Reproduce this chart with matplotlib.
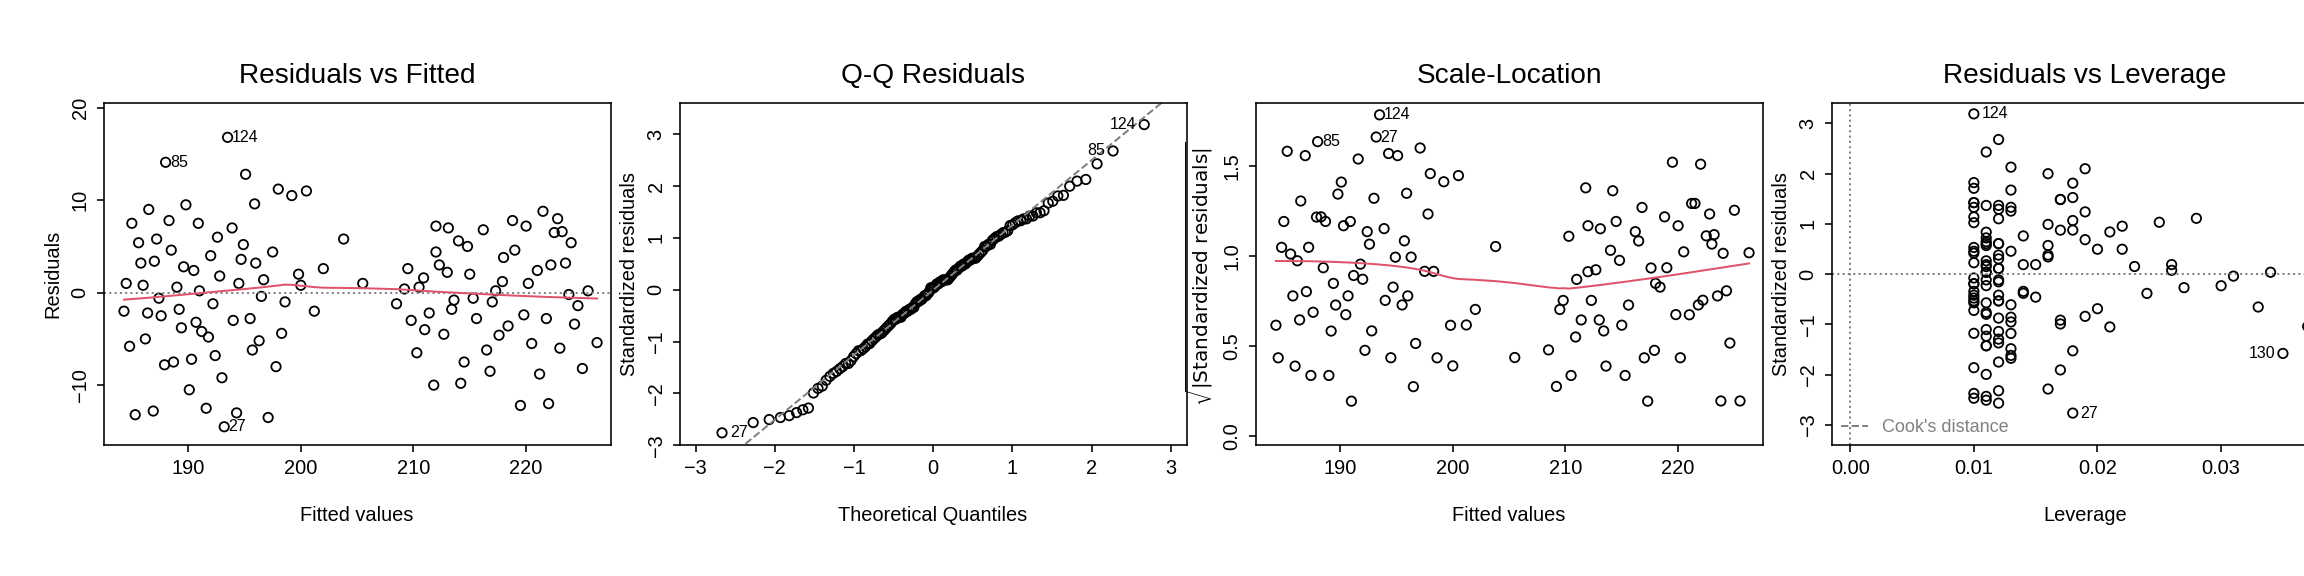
import math
import numpy as np
import matplotlib
matplotlib.use("Agg")
import matplotlib.pyplot as plt

# fitted values and residuals of the model
fitted = np.array([
    193.5, 188.0, 193.2, 184.5, 185.0, 185.3, 185.8, 186.2, 186.5, 186.9,
    187.2, 187.6, 188.3, 188.7, 189.0, 189.4, 189.8, 190.1, 190.5, 190.9,
    191.2, 191.6, 192.0, 192.4, 192.8, 193.9, 194.3, 194.7, 195.1, 195.5,
    195.9, 196.3, 196.7, 197.1, 197.5, 198.0, 198.6, 199.2, 199.8, 200.5,
    201.2, 202.0, 203.8, 184.8, 185.6, 186.4, 187.0, 187.9, 188.5, 189.2,
    190.3, 191.0, 191.8, 192.6, 193.0, 194.0, 194.9, 195.7, 196.5, 197.8,
    184.3, 186.0, 187.4, 189.6, 190.7, 192.2, 194.5, 196.0, 198.3, 200.0,
    208.5, 209.2, 209.8, 210.3, 210.9, 211.4, 211.8, 212.3, 212.7, 213.1,
    213.6, 214.0, 214.5, 215.0, 215.6, 216.2, 216.8, 217.3, 217.9, 218.4,
    219.0, 219.5, 220.0, 220.5, 221.0, 221.5, 222.0, 222.5, 223.0, 223.5,
    224.0, 224.6, 225.5, 226.3, 209.5, 211.0, 212.0, 213.4, 214.8, 216.5,
    218.0, 219.8, 221.2, 222.8, 224.3, 210.5, 213.0, 215.3, 217.6, 220.2,
    222.2, 223.8, 205.5, 212.0, 217.0, 221.8, 223.2, 218.8, 214.2, 225.0,
])
residuals = np.array([
    16.8, 14.1, -14.5, 1.0, 7.5, -13.2, 3.2, -5.0, 9.0, -12.8,
    5.8, -2.5, 7.8, -7.5, 0.6, -3.8, 9.5, -10.5, 2.4, 7.5,
    -4.2, -12.5, 4.0, -6.8, 1.8, 7.0, -13.0, 3.6, 12.8, -2.8,
    9.6, -5.2, 1.4, -13.5, 4.4, 11.2, -1.0, 10.5, 2.0, 11.0,
    -2.0, 2.6, 5.8, -5.8, 5.4, -2.2, 3.4, -7.8, 4.6, -1.8,
    -7.2, 0.2, -4.8, 6.0, -9.2, -3.0, 5.2, -6.2, -0.4, -8.0,
    -2.0, 0.8, -0.6, 2.8, -3.2, -1.2, 1.0, 3.2, -4.4, 0.8,
    -1.2, 0.4, -3.0, -6.5, 1.6, -2.2, -10.0, 3.0, -4.5, 7.0,
    -0.8, 5.6, -7.5, 2.0, -2.8, 6.8, -8.5, 0.2, 1.2, -3.6,
    4.6, -12.2, 7.2, -5.5, 2.4, 8.8, -12.0, 6.5, -6.0, 3.2,
    5.4, -1.4, 0.2, -5.4, 2.6, -4.0, 7.2, -1.8, 5.0, -6.2,
    3.8, -2.4, -8.8, 8.0, -3.4, 0.6, 2.2, -0.6, -4.6, 1.0,
    3.0, -0.2, 1.0, 4.4, -1.0, -2.8, 6.6, 7.8, -9.8, -8.2,
])
leverage = np.array([
    0.010, 0.012, 0.018, 0.011, 0.010, 0.011, 0.012, 0.013, 0.010, 0.011,
    0.012, 0.010, 0.017, 0.011, 0.012, 0.010, 0.018, 0.011, 0.013, 0.010,
    0.011, 0.010, 0.014, 0.012, 0.016, 0.013, 0.010, 0.019, 0.011, 0.012,
    0.010, 0.017, 0.011, 0.012, 0.021, 0.013, 0.010, 0.016, 0.012, 0.019,
    0.024, 0.022, 0.028, 0.011, 0.010, 0.012, 0.011, 0.013, 0.018, 0.010,
    0.012, 0.011, 0.017, 0.010, 0.012, 0.011, 0.016, 0.013, 0.010, 0.018,
    0.014, 0.011, 0.012, 0.010, 0.013, 0.011, 0.015, 0.012, 0.019, 0.023,
    0.030, 0.026, 0.010, 0.011, 0.012, 0.010, 0.017, 0.011, 0.013, 0.010,
    0.012, 0.018, 0.011, 0.016, 0.010, 0.012, 0.013, 0.011, 0.010, 0.020,
    0.017, 0.012, 0.011, 0.021, 0.010, 0.013, 0.016, 0.019, 0.012, 0.011,
    0.025, 0.027, 0.034, 0.037, 0.020, 0.011, 0.012, 0.014, 0.022, 0.010,
    0.011, 0.015, 0.013, 0.018, 0.033, 0.012, 0.010, 0.011, 0.012, 0.014,
    0.016, 0.031, 0.026, 0.011, 0.010, 0.012, 0.013, 0.017, 0.010, 0.035,
])
obs_names = [str(i + 1) for i in range(len(fitted))]
obs_names[0], obs_names[1], obs_names[2] = "124", "85", "27"
sigma = 5.3  # residual standard error

n = len(fitted)
std_res = residuals / (sigma * np.sqrt(1 - leverage))


def qnorm(p):
    lo, hi = -10.0, 10.0
    for _ in range(80):
        mid = (lo + hi) / 2
        if 0.5 * (1 + math.erf(mid / math.sqrt(2))) < p:
            lo = mid
        else:
            hi = mid
    return (lo + hi) / 2


def lowess(x, y, f=2 / 3, iters=3):
    order = np.argsort(x)
    x, y = x[order], y[order]
    k = int(math.ceil(f * len(x)))
    rw = np.ones(len(x))
    out = np.zeros(len(x))
    for _ in range(iters + 1):
        for i in range(len(x)):
            d = np.abs(x - x[i])
            h = np.sort(d)[k - 1]
            w = np.clip(1 - (d / h) ** 3, 0, 1) ** 3 * rw
            W = w.sum()
            mx = (w * x).sum() / W
            my = (w * y).sum() / W
            sxx = (w * (x - mx) ** 2).sum()
            b = (w * (x - mx) * (y - my)).sum() / sxx if sxx > 0 else 0
            out[i] = my + b * (x[i] - mx)
        r = y - out
        s = np.median(np.abs(r))
        rw = np.clip(1 - (r / (6 * s)) ** 2, 0, 1) ** 2
    return x, out


plt.rcParams["font.family"] = "Liberation Sans"
fig = plt.figure(figsize=(16, 4), dpi=144)
axes = [fig.add_axes([0.045 + 0.25 * k, 0.227, 0.22, 0.594]) for k in range(4)]

top3 = np.argsort(-np.abs(residuals))[:3]
red = "#DF536B"
pt = dict(s=22, facecolors="none", edgecolors="black", linewidths=0.9)


def style(ax, title, xlabel, ylabel):
    ax.set_title(title, fontsize=14, pad=10)
    ax.set_xlabel(xlabel, fontsize=10, labelpad=14)
    ax.set_ylabel(ylabel, fontsize=10)
    ax.tick_params(labelsize=10)
    for lab in ax.get_yticklabels():
        lab.set_rotation(90)
        lab.set_va("center")


# Residuals vs Fitted
ax = axes[0]
ax.scatter(fitted, residuals, **pt)
ax.axhline(0, color="gray", ls=":", lw=1)
lx, ly = lowess(fitted, residuals)
ax.plot(lx, ly, color=red, lw=1)
for i in top3:
    ax.text(fitted[i] + 0.4, residuals[i], obs_names[i], fontsize=8, va="center")
ax.set_xlim(182.5, 227.5)
ax.set_ylim(-16.5, 20.5)
ax.set_yticks([-10, 0, 10, 20])
ax.set_xticks([190, 200, 210, 220])
style(ax, "Residuals vs Fitted", "Fitted values", "Residuals")

# Q-Q Residuals
ax = axes[1]
theo = np.array([qnorm((i + 0.5) / n) for i in range(n)])
order = np.argsort(std_res)
ax.scatter(theo, std_res[order], **pt)
q1, q3 = np.quantile(std_res, [0.25, 0.75])
t1, t3 = qnorm(0.25), qnorm(0.75)
slope = (q3 - q1) / (t3 - t1)
xs = np.array([-3.3, 3.3])
ax.plot(xs, q1 + slope * (xs - t1), color="gray", ls="--", lw=1)
rank = {idx: r for r, idx in enumerate(order)}
for i in top3:
    ha = "left" if theo[rank[i]] < 0 else "right"
    dx = 0.1 if ha == "left" else -0.1
    ax.text(theo[rank[i]] + dx, std_res[i], obs_names[i], fontsize=8, ha=ha, va="center")
ax.set_xlim(-3.2, 3.2)
ax.set_ylim(-3.0, 3.6)
ax.set_xticks(range(-3, 4))
ax.set_yticks(range(-3, 4))
style(ax, "Q-Q Residuals", "Theoretical Quantiles", "Standardized residuals")

# Scale-Location
ax = axes[2]
sl = np.sqrt(np.abs(std_res))
ax.scatter(fitted, sl, **pt)
lx, ly = lowess(fitted, sl)
ax.plot(lx, ly, color=red, lw=1)
for i in top3:
    ax.text(fitted[i] + 0.4, sl[i], obs_names[i], fontsize=8, va="center")
ax.set_xlim(182.5, 227.5)
ax.set_ylim(-0.05, 1.85)
ax.set_xticks([190, 200, 210, 220])
ax.set_yticks([0.0, 0.5, 1.0, 1.5])
style(ax, "Scale-Location", "Fitted values", r"$\sqrt{|\mathrm{Standardized\ residuals}|}$")

# Residuals vs Leverage
ax = axes[3]
ax.scatter(leverage, std_res, **pt)
ax.axhline(0, color="gray", ls=":", lw=1)
ax.axvline(0, color="gray", ls=":", lw=1)
cook = std_res ** 2 / 2 * leverage / (1 - leverage)
for i in np.argsort(-cook)[:3]:
    if leverage[i] > 0.03:
        ax.text(leverage[i] - 0.0006, std_res[i], obs_names[i], fontsize=8, va="center", ha="right")
    else:
        ax.text(leverage[i] + 0.0006, std_res[i], obs_names[i], fontsize=8, va="center")
ax.plot([], [], color="gray", ls="--", lw=1, label="Cook's distance")
ax.legend(loc="lower left", frameon=False, fontsize=9, labelcolor="gray",
          handlelength=1.5, borderaxespad=0.1)
ax.set_xlim(-0.0015, 0.0395)
ax.set_ylim(-3.4, 3.4)
ax.set_xticks([0.0, 0.01, 0.02, 0.03])
ax.set_xticklabels(["0.00", "0.01", "0.02", "0.03"])
ax.set_yticks(range(-3, 4))
style(ax, "Residuals vs Leverage", "Leverage", "Standardized residuals")

fig.savefig("out.png", dpi=144)
